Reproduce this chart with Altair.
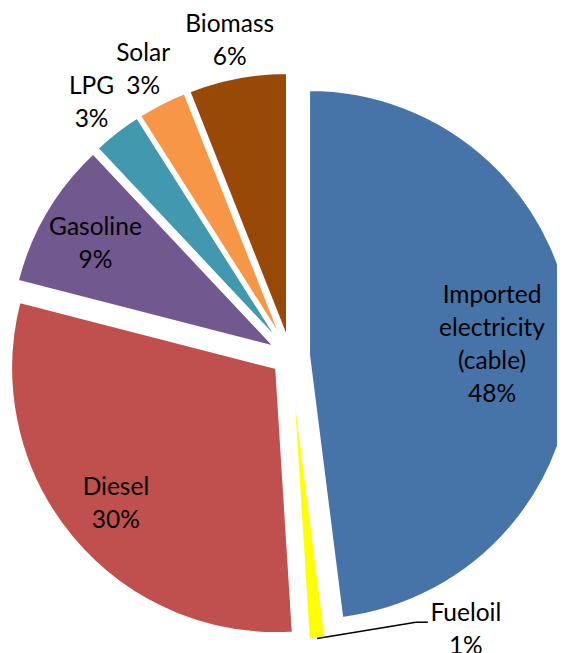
import math
import altair as alt
import pandas as pd

# ---- data ----
categories = ["Imported electricity (cable)", "Fueloil", "Diesel", "Gasoline", "LPG", "Solar", "Biomass"]
shares = [48, 1, 30, 9, 3, 3, 6]
colors = ["#4674A9", "#FFFF00", "#C0504D", "#71588F", "#4198AF", "#F79646", "#984807"]

df = pd.DataFrame({"category": categories, "share": shares, "idx": list(range(len(categories)))})

# ---- layout ----
W, H = 549, 645
CX, CY, R = 282.5, 348.2, 265.0
EXPLODE = 18.6 / R
IN_R = 208 / R
OUT_R = 306 / R
LH = 33
LABEL_MAX_X = (484 - CX) / R   # keep inside labels within the chart's right edge
TWO_PI = 2 * math.pi

xs = alt.Scale(domain=[-1, 1], range=[CX - R, CX + R])
ys = alt.Scale(domain=[-1, 1], range=[CY + R, CY - R])
ts = alt.Scale(domain=[0, 100], range=[0, TWO_PI])

base = (
    alt.Chart(df)
    .transform_window(cum="sum(share)", sort=[alt.SortField("idx")], frame=[None, 0])
    .transform_calculate(
        start="datum.cum - datum.share",
        mid="(datum.cum - datum.share / 2) * 2 * PI / 100",
    )
    .transform_calculate(
        cx=f"{EXPLODE} * sin(datum.mid)",
        cy=f"{EXPLODE} * cos(datum.mid)",
        lab_ang="datum.share < 2 ? datum.mid - 8.1 * 2 * PI / 100 : datum.mid",
        lab_r=f"datum.share >= 9 ? {IN_R} : {OUT_R}",
        lines="split(datum.category + ' ' + datum.share + '%', ' ')",
    )
    .transform_calculate(
        lx=f"min({LABEL_MAX_X}, datum.cx + datum.lab_r * sin(datum.lab_ang))",
        ly="datum.cy + datum.lab_r * cos(datum.lab_ang)",
        sx=f"({EXPLODE} + 1) * sin(datum.mid)",
        sy=f"({EXPLODE} + 1) * cos(datum.mid)",
    )
    .transform_calculate(
        # first text line sits at y: lift the block so that its centre is at the label point
        ty=f"datum.ly + (length(datum.lines) - 1) * {LH / 2 / R}",
        kx=f"datum.lx - {50 / R}",
        ex=f"datum.lx - {38 / R}",
        ky=f"datum.ly + {4.5 / R}",
    )
)

arcs = base.mark_arc(radius=R, stroke="white", strokeWidth=2).encode(
    x=alt.X("cx:Q", scale=xs, axis=None),
    y=alt.Y("cy:Q", scale=ys, axis=None),
    theta=alt.Theta("start:Q", scale=ts, stack=None),
    theta2="cum:Q",
    color=alt.Color("category:N", scale=alt.Scale(domain=categories, range=colors), legend=None),
)

texts = base.mark_text(
    font="Lato", fontSize=24.5, color="black", align="center", baseline="middle", lineHeight=LH, dy=4
).encode(
    x=alt.X("lx:Q", scale=xs, axis=None),
    y=alt.Y("ty:Q", scale=ys, axis=None),
    text=alt.Text("lines:N"),
)

small = base.transform_filter("datum.share < 2")
leader1 = small.mark_rule(color="black", strokeWidth=1.5).encode(
    x=alt.X("sx:Q", scale=xs, axis=None),
    y=alt.Y("sy:Q", scale=ys, axis=None),
    x2="kx:Q",
    y2="ky:Q",
)
leader2 = small.mark_rule(color="black", strokeWidth=1.5).encode(
    x=alt.X("kx:Q", scale=xs, axis=None),
    y=alt.Y("ky:Q", scale=ys, axis=None),
    x2="ex:Q",
    y2="ky:Q",
)

chart = (
    alt.layer(arcs, leader1, leader2, texts)
    .properties(width=W, height=H, autosize=alt.AutoSizeParams(type="none"), padding=0, background="white")
    .configure_view(stroke=None)
)

chart.save("out.html", embed_options={"renderer": "svg", "actions": False})
